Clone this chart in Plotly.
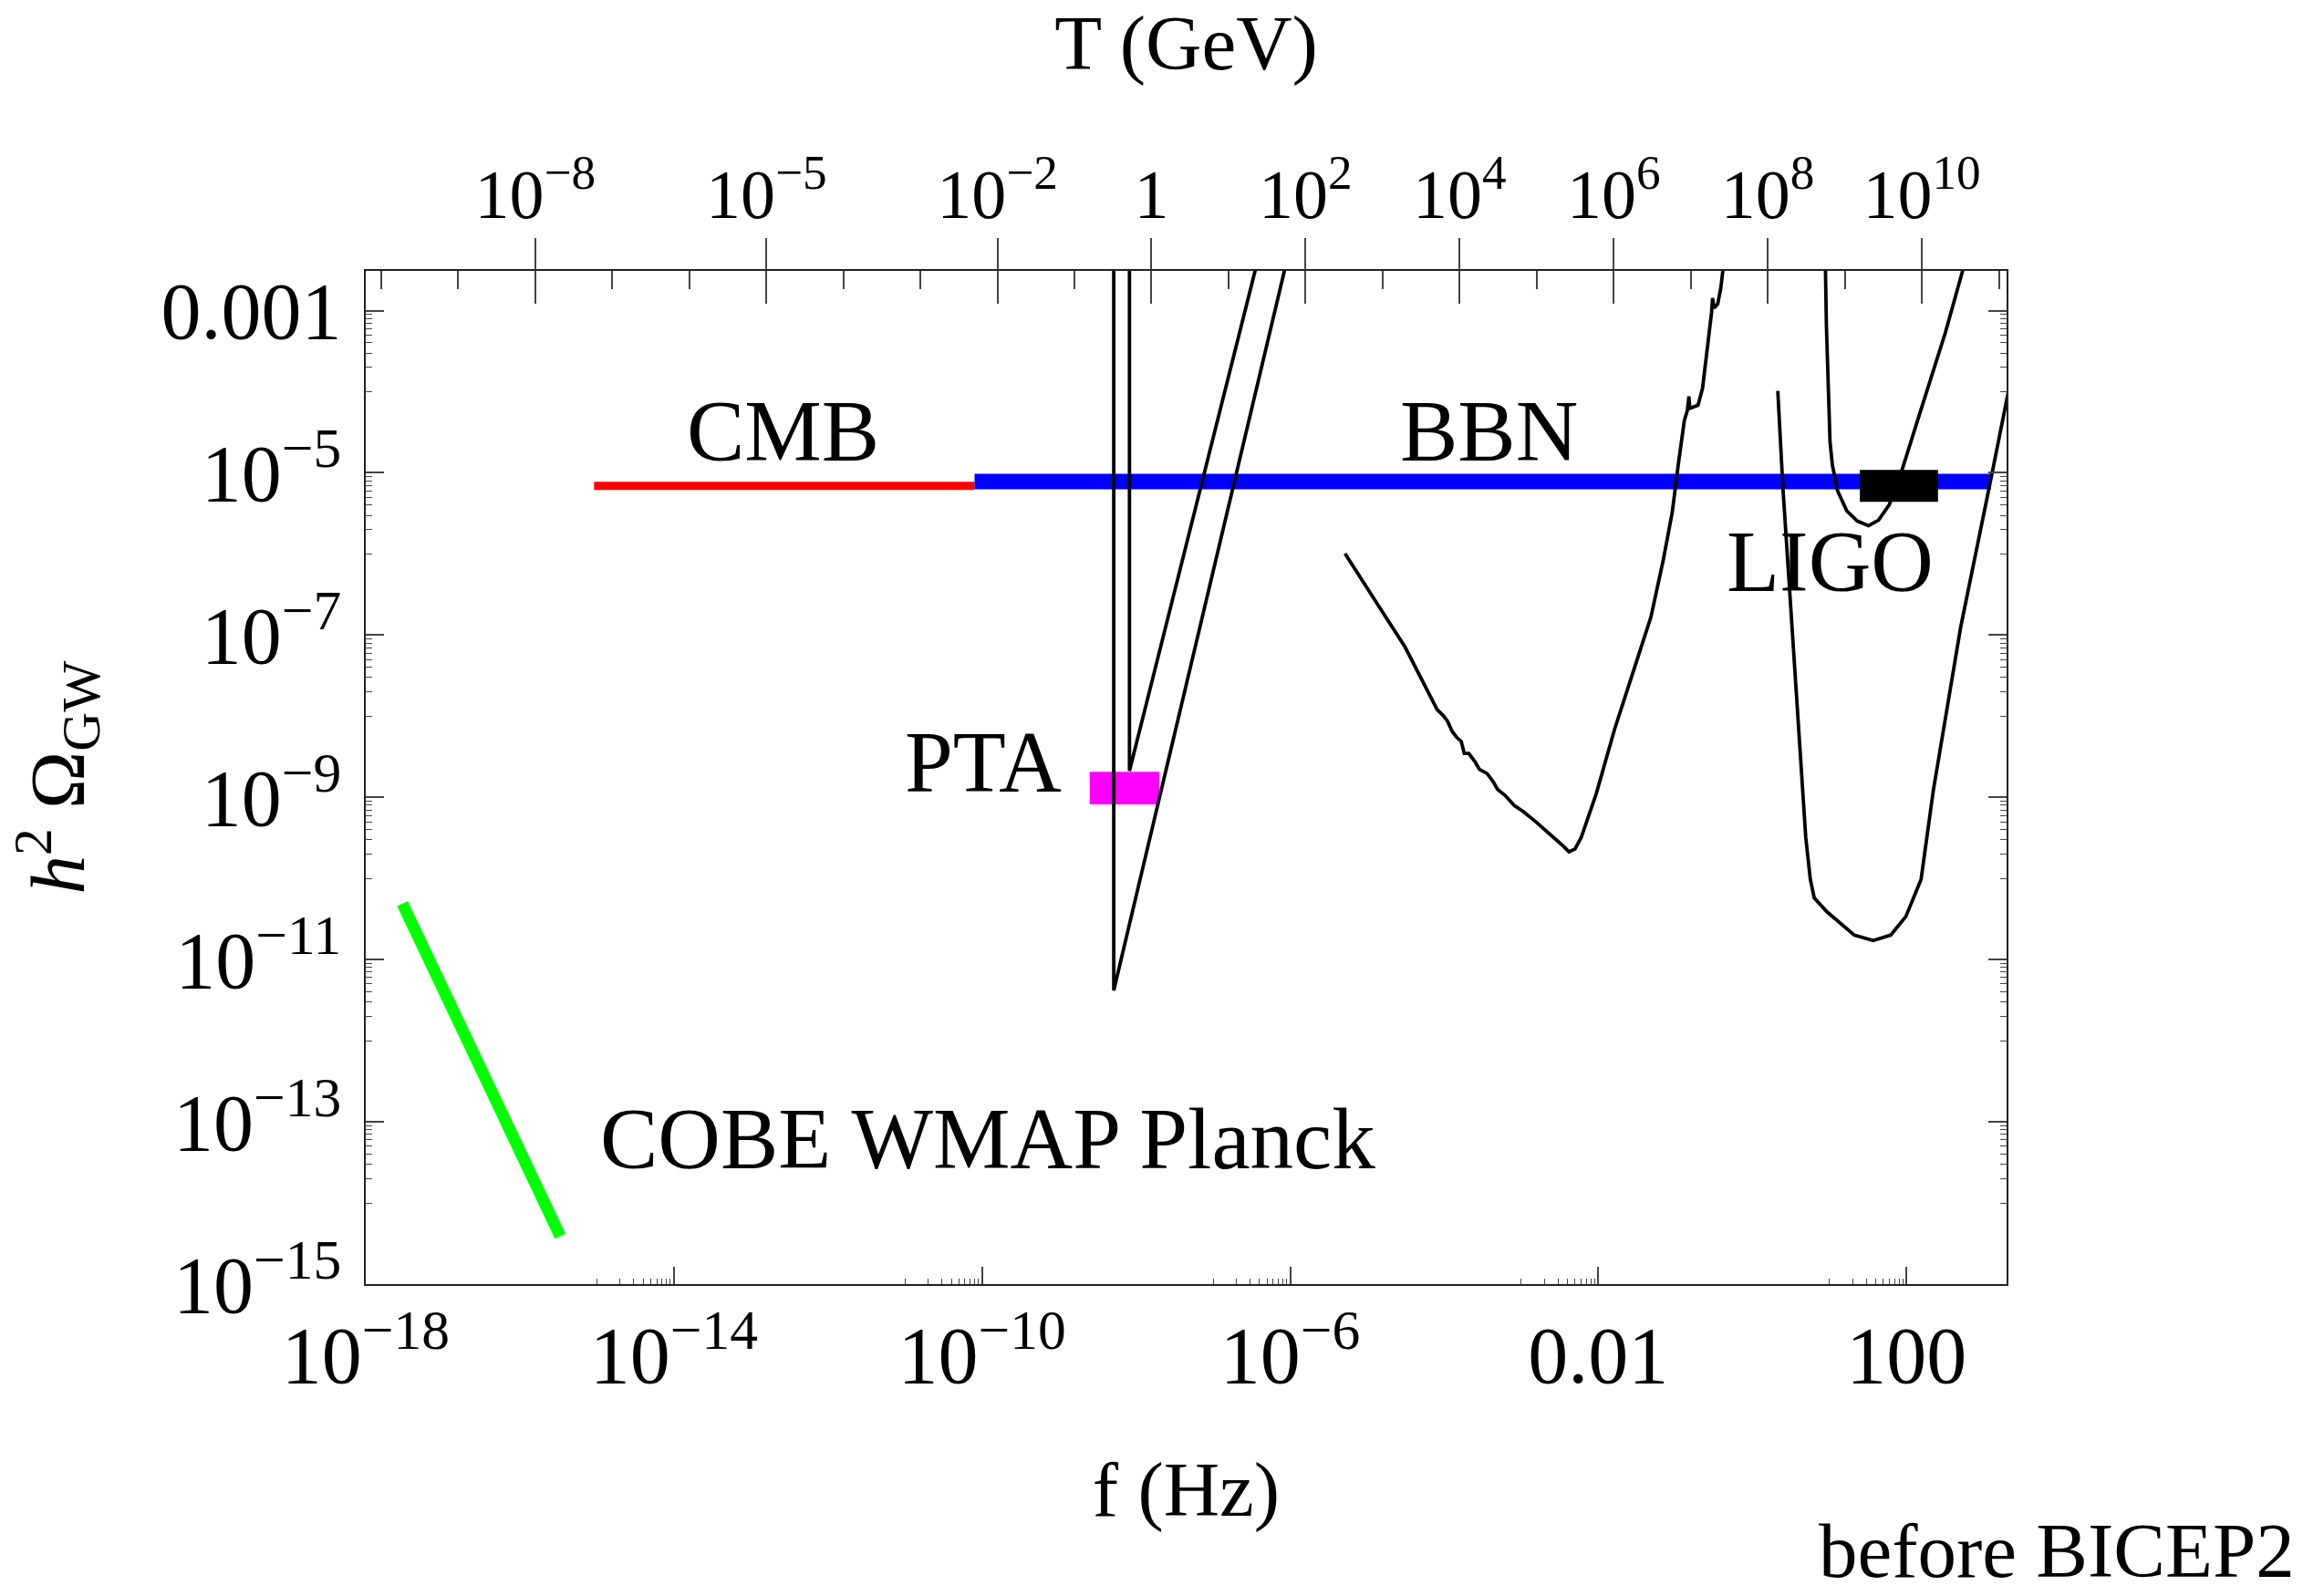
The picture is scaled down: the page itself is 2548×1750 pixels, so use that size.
import plotly.graph_objects as go

FONT = "Liberation Serif"

# ---- axes -------------------------------------------------------------
F_RANGE_LOG = [-18.0, 3.30]          # f (Hz), log10
OMEGA_RANGE_LOG = [-15.0, -2.51]     # h^2 Omega_GW, log10
T_SHIFT_LOG = 7.8                    # log10(T/GeV) = log10(f/Hz) + 7.8

f_tick_vals = [1e-18, 1e-14, 1e-10, 1e-6, 1e-2, 1e2]
f_tick_text = ["10<sup>−18</sup>", "10<sup>−14</sup>", "10<sup>−10</sup>",
               "10<sup>−6</sup>", "0.01", "100"]

omega_tick_vals = [1e-3, 1e-5, 1e-7, 1e-9, 1e-11, 1e-13, 1e-15]
omega_tick_text = ["0.001", "10<sup>−5</sup>", "10<sup>−7</sup>", "10<sup>−9</sup>",
                   "10<sup>−11</sup>", "10<sup>−13</sup>", "10<sup>−15</sup>"]

T_tick_vals = [1e-8, 1e-5, 1e-2, 1, 1e2, 1e4, 1e6, 1e8, 1e10]
T_tick_text = ["10<sup>−8</sup>", "10<sup>−5</sup>", "10<sup>−2</sup>", "1",
               "10<sup>2</sup>", "10<sup>4</sup>", "10<sup>6</sup>",
               "10<sup>8</sup>", "10<sup>10</sup>"]
T_decades = list(range(-10, 12))

# ---- data -------------------------------------------------------------
# COBE / WMAP / Planck large-scale bound
cobe_f = [3.0e-18, 3.35e-16]
cobe_omega = [4.9e-11, 3.9e-15]

# CMB and BBN integrated bounds
cmb_f = [9.2e-16, 8.0e-11]
cmb_omega = [6.9e-6, 6.9e-6]
bbn_f = [8.0e-11, 1.25e3]
bbn_omega = [7.8e-6, 7.8e-6]

# pulsar timing and LIGO boxes (f_min, f_max, omega_min, omega_max)
pta_box_f = [2.5e-9, 2.0e-8]
pta_box_omega = [8.2e-10, 2.06e-9]
ligo_box_f = [24.8, 257.0]
ligo_box_omega = [4.4e-6, 1.09e-5]

# pulsar-timing sensitivity wedges (log10 values)
pta_a_logf = [-8.29, -8.29, -6.07]
pta_a_logomega = [-2.49, -11.38, -2.49]
pta_b_logf = [-8.086, -8.086, -6.45]
pta_b_logomega = [-2.49, -8.674, -2.49]

# space interferometer sensitivity curve (log10 values)
space_logf = [-5.288, -4.508, -4.094, -4.016, -3.956, -3.897, -3.838, -3.779,
              -3.740, -3.681, -3.602, -3.543, -3.444, -3.366, -3.306, -3.208,
              -3.090, -2.972, -2.814, -2.656, -2.578, -2.459, -2.381, -2.302,
              -2.223, -2.026, -1.789, -1.553, -1.317, -1.159, -1.041, -0.962,
              -0.883, -0.844, -0.824, -0.812, -0.706, -0.647, -0.588, -0.529,
              -0.517, -0.497, -0.450, -0.410, -0.379]
space_logomega = [-5.996, -7.148, -7.915, -7.989, -8.063, -8.187, -8.261, -8.310,
                  -8.459, -8.459, -8.558, -8.656, -8.706, -8.805, -8.904, -8.978,
                  -9.101, -9.176, -9.299, -9.423, -9.497, -9.596, -9.670, -9.636,
                  -9.497, -8.953, -8.162, -7.470, -6.777, -6.085, -5.491, -4.898,
                  -4.354, -4.230, -4.057, -4.205, -4.166, -3.958, -3.513, -3.018,
                  -2.845, -2.969, -2.919, -2.722, -2.474]

# ground-based detector curves (log10 values)
ligo_logf = [0.941, 0.949, 0.961, 0.984, 1.008, 1.039, 1.106, 1.225, 1.362,
             1.508, 1.638, 1.776, 1.914, 2.190, 2.505, 2.741]
ligo_logomega = [-2.441, -2.515, -3.186, -4.046, -4.620, -4.906, -5.222, -5.468,
                 -5.594, -5.652, -5.583, -5.394, -5.050, -4.218, -3.272, -2.469]

adv_logf = [0.330, 0.397, 0.496, 0.594, 0.693, 0.752, 0.803, 0.968, 1.323,
            1.567, 1.796, 1.993, 2.190, 2.348, 2.702, 3.096, 3.325]
adv_logomega = [-3.989, -5.193, -6.626, -8.060, -9.493, -10.010, -10.239, -10.411,
                -10.698, -10.766, -10.698, -10.468, -10.010, -8.920, -6.913,
                -5.078, -3.989]


def pow10(vals):
    return [10.0 ** v for v in vals]


def box(fr, om):
    return ([fr[0], fr[1], fr[1], fr[0], fr[0]],
            [om[0], om[0], om[1], om[1], om[0]])


fig = go.Figure()

fig.add_trace(go.Scatter(x=cobe_f, y=cobe_omega, mode="lines",
                         line=dict(color="#00ff00", width=13)))
fig.add_trace(go.Scatter(x=cmb_f, y=cmb_omega, mode="lines",
                         line=dict(color="#ff0000", width=9)))
fig.add_trace(go.Scatter(x=bbn_f, y=bbn_omega, mode="lines",
                         line=dict(color="#0000ff", width=17)))

bx, by = box(pta_box_f, pta_box_omega)
fig.add_trace(go.Scatter(x=bx, y=by, mode="lines", fill="toself",
                         fillcolor="#ff00ff", line=dict(width=0, color="#ff00ff")))
bx, by = box(ligo_box_f, ligo_box_omega)
fig.add_trace(go.Scatter(x=bx, y=by, mode="lines", fill="toself",
                         fillcolor="#000000", line=dict(width=0, color="#000000")))

for lf, lo in [(pta_a_logf, pta_a_logomega),
               (pta_b_logf, pta_b_logomega),
               (space_logf, space_logomega),
               (ligo_logf, ligo_logomega),
               (adv_logf, adv_logomega)]:
    fig.add_trace(go.Scatter(x=pow10(lf), y=pow10(lo), mode="lines",
                             line=dict(color="#000000", width=3.8)))

# empty traces so the temperature axes are laid out
fig.add_trace(go.Scatter(x=[], y=[], xaxis="x2", yaxis="y", mode="lines"))
fig.add_trace(go.Scatter(x=[], y=[], xaxis="x3", yaxis="y", mode="lines"))

labels = [
    ("CMB", -12.58, -4.49),
    ("BBN", -3.425, -4.49),
    ("LIGO", 1.012, -6.10),
    ("PTA", -9.98, -8.573),
    ("COBE WMAP Planck", -9.93, -13.21),
]
for text, lx, ly in labels:
    fig.add_annotation(x=lx, y=ly, xref="x", yref="y", text=text, showarrow=False,
                       font=dict(family=FONT, size=95, color="black"),
                       xanchor="center", yanchor="middle")

fig.add_annotation(x=1.177, y=-0.307, xref="paper", yref="paper", xanchor="right",
                   yanchor="bottom", text="before BICEP2", showarrow=False,
                   font=dict(family=FONT, size=85, color="black"))

tick_font = dict(family=FONT, size=88, color="black")
axis_color = "#222222"
tick_color = "#444444"

f_minor = [k * v / 10 for v in f_tick_vals for k in range(1, 10)]
omega_minor = [k * v / 10 for v in omega_tick_vals for k in range(1, 10)]
T_range = [F_RANGE_LOG[0] + T_SHIFT_LOG, F_RANGE_LOG[1] + T_SHIFT_LOG]

fig.update_layout(
    width=2548, height=1750, autosize=False,
    margin=dict(l=401, r=348, t=297, b=342, pad=0),
    paper_bgcolor="white", plot_bgcolor="white",
    showlegend=False,
    font=dict(family=FONT, color="black"),
    xaxis=dict(
        type="log", range=F_RANGE_LOG,
        tickmode="array", tickvals=f_tick_vals, ticktext=f_tick_text,
        ticks="inside", ticklen=19, tickwidth=1.5, tickcolor=tick_color,
        minor=dict(tickmode="array", tickvals=f_minor, ticks="inside",
                   ticklen=6, tickwidth=1.2, tickcolor=tick_color, showgrid=False),
        showline=True, linecolor=axis_color, linewidth=2, mirror=True,
        showgrid=False, zeroline=False,
        tickfont=tick_font, ticklabelstandoff=0,
        title=dict(text="f (Hz)", font=dict(family=FONT, size=85), standoff=69),
    ),
    # temperature scale: labels and inner ticks
    xaxis2=dict(
        type="log", range=T_range,
        overlaying="x", anchor="y", side="top",
        tickmode="array", tickvals=T_tick_vals, ticktext=T_tick_text,
        ticks="inside", ticklen=36, tickwidth=1.5, tickcolor=tick_color,
        minor=dict(tickmode="array", tickvals=[10.0 ** d for d in T_decades],
                   ticks="inside", ticklen=20, tickwidth=1.5, tickcolor=tick_color,
                   showgrid=False),
        showline=False, showgrid=False, zeroline=False,
        tickfont=dict(family=FONT, size=76, color="black"), ticklabelstandoff=42,
        title=dict(text="T (GeV)", font=dict(family=FONT, size=85), standoff=74),
    ),
    # temperature scale: outer part of the labelled ticks
    xaxis3=dict(
        type="log", range=T_range,
        overlaying="x", anchor="y", side="top",
        tickmode="array", tickvals=T_tick_vals, showticklabels=False,
        ticks="outside", ticklen=35, tickwidth=1.5, tickcolor=tick_color,
        showline=False, showgrid=False, zeroline=False,
    ),
    yaxis=dict(
        type="log", range=OMEGA_RANGE_LOG,
        tickmode="array", tickvals=omega_tick_vals, ticktext=omega_tick_text,
        ticks="inside", ticklen=20, tickwidth=1.5, tickcolor=tick_color,
        minor=dict(tickmode="array", tickvals=omega_minor, ticks="inside",
                   ticklen=7, tickwidth=1.2, tickcolor=tick_color, showgrid=False),
        showline=True, linecolor=axis_color, linewidth=2, mirror="ticks",
        showgrid=False, zeroline=False,
        tickfont=tick_font, ticklabelstandoff=7,
        title=dict(text="<i>h</i><sup>2</sup> Ω<sub>GW</sub>",
                   font=dict(family=FONT, size=85), standoff=56),
    ),
)

fig.write_html("out.html")
